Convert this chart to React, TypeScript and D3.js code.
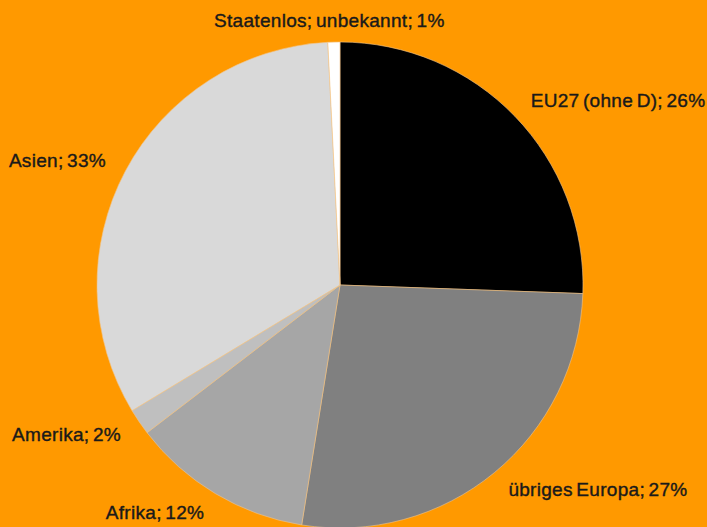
import React from "react";
import * as d3 from "d3";

const categories = ["EU27 (ohne D)", "übriges Europa", "Afrika", "Amerika", "Asien", "Staatenlos; unbekannt"];
const values = [25.6, 27.0, 12.1, 1.75, 32.9, 0.8];
const labels = ["EU27 (ohne D); 26%", "übriges Europa; 27%", "Afrika; 12%", "Amerika; 2%", "Asien; 33%", "Staatenlos; unbekannt; 1%"];
const colors = ["#000000", "#808080", "#a6a6a6", "#bfbfbf", "#d9d9d9", "#ffffff"];

const W = 707;
const H = 527;
const CX = 340;
const CY = 285;
const R = 243;
const LABEL_R = 265;
const labelDx = [0, 0, 0, 0, 0, -4];

export default function App() {
  const pie = d3.pie<number>().value((d) => d).sort(null);
  const arcs = pie(values);
  const arc = d3.arc<d3.PieArcDatum<number>>().innerRadius(0).outerRadius(R);
  return (
    <svg width={W} height={H} style={{ position: "absolute", left: 0, top: 0, display: "block" }}>
      <rect x={0} y={0} width={W} height={H} fill="#ff9900" />
      <g transform={`translate(${CX},${CY})`}>
        {arcs.map((a, i) => (
          <path key={categories[i]} d={arc(a) || ""} fill={colors[i]} stroke="#f2c48a" strokeWidth={0.6} />
        ))}
        {arcs.map((a, i) => {
          const mid = (a.startAngle + a.endAngle) / 2;
          const s = Math.sin(mid);
          const x = LABEL_R * s + labelDx[i];
          const y = -LABEL_R * Math.cos(mid);
          const anchor = Math.abs(s) < 0.1 ? "middle" : s > 0 ? "start" : "end";
          return (
            <text
              key={"l" + i}
              x={x}
              y={y}
              textAnchor={anchor}
              dominantBaseline="central"
              fontFamily="Liberation Sans, Arial, sans-serif"
              fontSize={19}
              letterSpacing={0.3}
              wordSpacing={-2}
              fill="#1a1a1a"
              stroke="#1a1a1a"
              strokeWidth={0.4}
            >
              {labels[i]}
            </text>
          );
        })}
      </g>
    </svg>
  );
}
